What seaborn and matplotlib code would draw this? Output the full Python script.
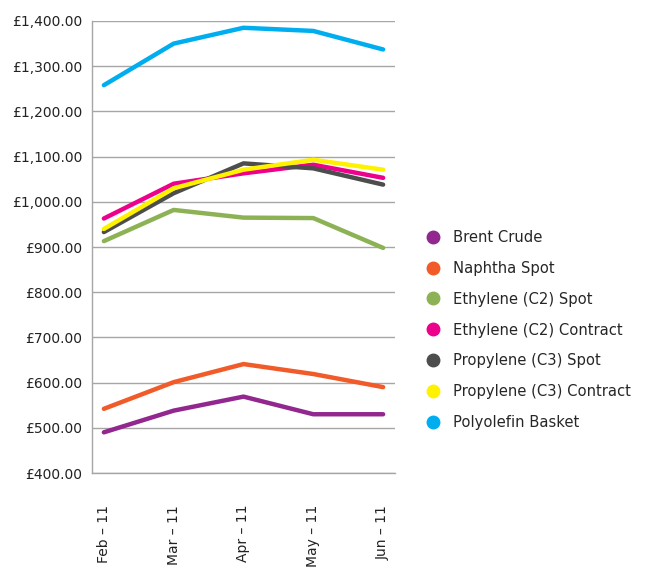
import matplotlib
matplotlib.use("Agg")
import matplotlib.pyplot as plt
from matplotlib.lines import Line2D
from matplotlib.ticker import FuncFormatter
import seaborn as sns
import pandas as pd

months = ["Feb – 11", "Mar – 11", "Apr – 11", "May – 11", "Jun – 11"]
series_names = ["Brent Crude", "Naphtha Spot", "Ethylene (C2) Spot",
                "Ethylene (C2) Contract", "Propylene (C3) Spot",
                "Propylene (C3) Contract", "Polyolefin Basket"]
brent = [490, 538, 569, 530, 530]
naphtha = [542, 601, 641, 619, 590]
ethylene_spot = [913, 982, 965, 964, 898]
ethylene_contract = [963, 1040, 1063, 1082, 1053]
propylene_spot = [933, 1019, 1085, 1074, 1038]
propylene_contract = [940, 1030, 1071, 1093, 1071]
polyolefin = [1258, 1350, 1385, 1378, 1337]
colors = ["#92278F", "#F15A29", "#8DB255", "#EC008C", "#4D4D4D", "#FFF200", "#00AEEF"]

values = [brent, naphtha, ethylene_spot, ethylene_contract,
          propylene_spot, propylene_contract, polyolefin]
rows = []
for name, vals in zip(series_names, values):
    for i, (m, v) in enumerate(zip(months, vals)):
        rows.append({"month": m, "idx": i, "series": name, "value": v})
df = pd.DataFrame(rows)

sns.set_style("white")
plt.rcParams["font.family"] = ["DejaVu Sans"]

fig = plt.figure(figsize=(6.47, 5.69), dpi=100)
ax = fig.add_axes([0.1422, 0.1687, 0.6105 - 0.1422, 0.9631 - 0.1687])

sns.lineplot(data=df, x="idx", y="value", hue="series", hue_order=series_names,
             palette=colors, linewidth=3.2, ax=ax, legend=False, sort=False)

ax.set_xlim(-0.17, 4.17)
ax.set_ylim(400, 1400)
ax.set_yticks(range(400, 1401, 100))
ax.yaxis.set_major_formatter(FuncFormatter(lambda v, p: f"£{v:,.2f}"))
ax.set_xticks(range(len(months)))
ax.set_xticklabels(months, rotation=90, va="top", ha="center")
ax.tick_params(axis="x", pad=23, length=0, labelsize=10, colors="#222222")
ax.tick_params(axis="y", pad=7, length=0, labelsize=10, colors="#222222")
ax.set_xlabel("")
ax.set_ylabel("")
ax.grid(axis="y", color="#A6A6A6", linewidth=1)
ax.grid(axis="x", visible=False)
ax.set_axisbelow(True)
for s in ["top", "right"]:
    ax.spines[s].set_visible(False)
for s in ["left", "bottom"]:
    ax.spines[s].set_color("#A6A6A6")
    ax.spines[s].set_linewidth(1)

handles = [Line2D([0], [0], marker="o", linestyle="none", markersize=9,
                  markerfacecolor=c, markeredgecolor=c) for c in colors]
fig.legend(handles, series_names, loc="center left",
           bbox_to_anchor=(0.638, 0.42), frameon=False, fontsize=10.6,
           labelspacing=1.08, handletextpad=0.85, handlelength=1.0)

fig.savefig("out.png", dpi=100)
